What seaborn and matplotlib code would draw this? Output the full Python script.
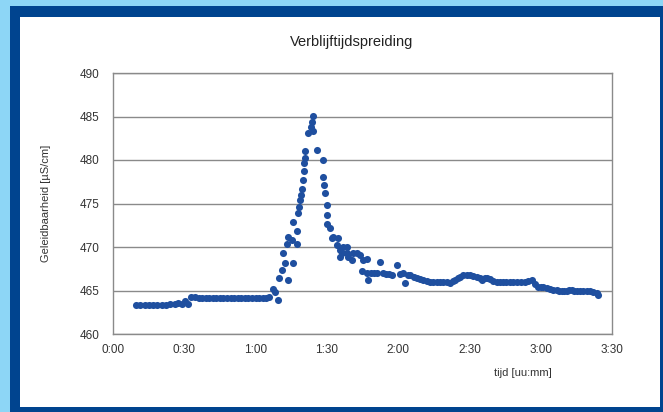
import numpy as np
import pandas as pd
import matplotlib.pyplot as plt
import seaborn as sns
from matplotlib.patches import Rectangle
from matplotlib.ticker import FixedLocator, FuncFormatter

# D A T A  (tijd in minuten, geleidbaarheid in uS/cm)
t_flat1 = [9.7, 11.5, 13.3, 15.1, 16.9, 18.7, 20.5, 22.3, 24.1, 26.0, 27.5, 29.0, 30.2, 31.5]
g_flat1 = [463.3, 463.3, 463.3, 463.3, 463.3, 463.3, 463.3, 463.3, 463.4, 463.4, 463.6, 463.5, 463.8, 463.5]

t_flat2 = [33.0, 34.5, 36.0, 37.5, 39.0, 40.5, 42.0, 43.5, 45.0, 46.5, 48.0, 49.5, 51.0,
           52.5, 54.0, 55.5, 57.0, 58.5, 60.0, 61.5, 63.0, 64.5, 65.5]
g_flat2 = [464.2, 464.2, 464.1, 464.1, 464.1, 464.1, 464.1, 464.1, 464.1, 464.1, 464.1, 464.1, 464.1,
           464.1, 464.1, 464.1, 464.1, 464.1, 464.1, 464.1, 464.1, 464.1, 464.2]

t_peak = [67.5, 68.0, 69.6, 69.9, 71.2, 71.7, 72.4, 73.1, 73.8, 73.8, 75.2, 75.6, 75.9, 77.3, 77.3,
          78.0, 78.4, 78.7, 79.0, 79.4, 80.1, 80.4, 80.5, 80.6, 80.8, 82.2, 83.2, 83.6, 84.0, 84.3,
          85.7, 88.2, 88.5, 88.8, 89.2, 89.9, 89.9, 90.2, 91.3, 92.0, 92.7, 94.1, 94.8, 95.5, 95.5,
          96.2, 97.0, 98.3, 98.3, 99.0, 100.4, 101.1, 102.5, 103.9, 104.6, 105.3, 106.8, 106.8, 107.4]
g_peak = [465.2, 464.8, 463.9, 466.4, 467.4, 469.3, 468.2, 470.4, 466.2, 471.2, 470.8, 468.2, 472.9, 471.8, 470.4,
          473.9, 474.6, 475.4, 476.0, 476.7, 477.7, 478.7, 479.6, 480.2, 481.0, 483.1, 483.8, 484.4, 485.05, 483.3,
          481.1, 478.1, 480.0, 477.1, 476.2, 474.8, 473.7, 472.7, 472.2, 471.0, 471.2, 470.2, 471.0, 469.7, 468.9,
          469.3, 470.0, 470.0, 469.3, 468.9, 468.5, 469.3, 469.3, 469.1, 467.2, 468.5, 468.6, 467.0, 466.2]

t_tail = [108.5, 109.8, 111.0, 112.4, 113.6, 115.0, 116.2, 117.4, 119.4, 120.8, 122.2, 122.9, 124.0, 125.2,
          126.5, 127.8, 129.2, 130.6, 132.0, 133.4, 134.8, 136.2, 137.6, 139.0, 140.4, 141.8, 143.0, 143.9,
          145.0, 146.0, 147.4, 148.8, 150.2, 151.6, 153.0, 154.4, 155.5, 156.5, 157.6, 158.6, 160.0, 161.5,
          162.8, 164.2, 165.6, 167.1, 168.5, 169.9, 171.6, 173.4, 174.8, 176.2, 177.6, 179.0, 180.0, 181.1,
          182.5, 183.9, 185.3, 186.7, 187.8, 188.8, 189.9, 190.9, 192.0, 193.0, 194.0, 195.1, 196.5, 197.9,
          199.3, 200.7, 202.1, 203.5, 204.2]
g_tail = [467.0, 467.0, 467.0, 468.3, 467.0, 466.9, 466.9, 466.8, 467.9, 466.9, 467.0, 465.9, 466.8, 466.8,
          466.6, 466.4, 466.3, 466.2, 466.1, 466.0, 466.0, 466.0, 466.0, 466.0, 466.0, 465.9, 466.1, 466.2,
          466.4, 466.6, 466.8, 466.8, 466.8, 466.7, 466.6, 466.4, 466.2, 466.4, 466.4, 466.3, 466.1, 466.0,
          466.0, 466.0, 466.0, 466.0, 466.0, 466.0, 466.0, 466.0, 466.1, 466.2, 465.8, 465.4, 465.4, 465.4,
          465.3, 465.2, 465.1, 465.1, 465.0, 464.9, 465.0, 465.0, 465.1, 465.1, 465.0, 465.0, 465.0, 465.0,
          464.9, 464.9, 464.8, 464.7, 464.5]

df = pd.DataFrame({
    "tijd": t_flat1 + t_flat2 + t_peak + t_tail,
    "geleidbaarheid": g_flat1 + g_flat2 + g_peak + g_tail,
})

x_labels = [0, 30, 60, 90, 120, 150, 180, 210]

light_blue = "#8dd6f6"
dark_blue = "#00448f"
dot_color = "#1f4f9f"

sns.set_style("white")
plt.rcParams["font.family"] = ["Liberation Sans", "DejaVu Sans"]

fig = plt.figure(figsize=(6.63, 4.12), dpi=100)
fig.patch.set_facecolor(light_blue)

# frame: dark blue border, white panel (behind the axes)
W, H = 663, 412
fig.patches.append(Rectangle((10 / W, 0), 1 - 10 / W, 1 - 6 / H, transform=fig.transFigure,
                             facecolor=dark_blue, edgecolor="none", zorder=-2))
fig.patches.append(Rectangle((20 / W, 5 / H), (660 - 20) / W, (407 - 17) / H, transform=fig.transFigure,
                             facecolor="white", edgecolor="none", zorder=-1))

ax = fig.add_axes([113 / W, 1 - 334 / H, (612 - 113) / W, (334 - 73) / H])
ax.set_facecolor("white")

sns.scatterplot(data=df, x="tijd", y="geleidbaarheid", ax=ax, color=dot_color,
                s=26, linewidth=0, zorder=3, legend=False)

ax.set_xlim(0, 210)
ax.set_ylim(460, 490)
ax.set_yticks(np.arange(460, 491, 5))
ax.yaxis.grid(True, color="#8a8a8a", lw=1.0)
ax.set_axisbelow(True)

ax.xaxis.set_major_locator(FixedLocator(x_labels))
ax.xaxis.set_major_formatter(FuncFormatter(lambda v, p: f"{int(v) // 60}:{int(v) % 60:02d}"))
ax.xaxis.set_minor_locator(FixedLocator(np.arange(22.7, 210, 22.7)))
ax.tick_params(axis="x", which="major", length=0, pad=7, labelsize=8.5, labelcolor="#333333")
ax.tick_params(axis="x", which="minor", length=4, width=0.8, direction="inout", color="#888888")
ax.tick_params(axis="y", which="major", length=4, width=0.8, direction="out", color="#888888",
               labelsize=8.5, labelcolor="#333333", pad=6)
for sp in ax.spines.values():
    sp.set_color("#8a8a8a")
    sp.set_linewidth(1.0)

ax.set_xlabel("")
ax.set_ylabel("Geleidbaarheid [µS/cm]", fontsize=8, color="#333333", labelpad=20)
fig.text(523 / W, 1 - 373 / H, "tijd [uu:mm]", ha="center", va="center", fontsize=8, color="#333333")
fig.text(352 / W, 1 - 42 / H, "Verblijftijdspreiding", ha="center", va="center", fontsize=10.5, color="#222222")

fig.savefig("out.png", dpi=100, facecolor=fig.get_facecolor())
